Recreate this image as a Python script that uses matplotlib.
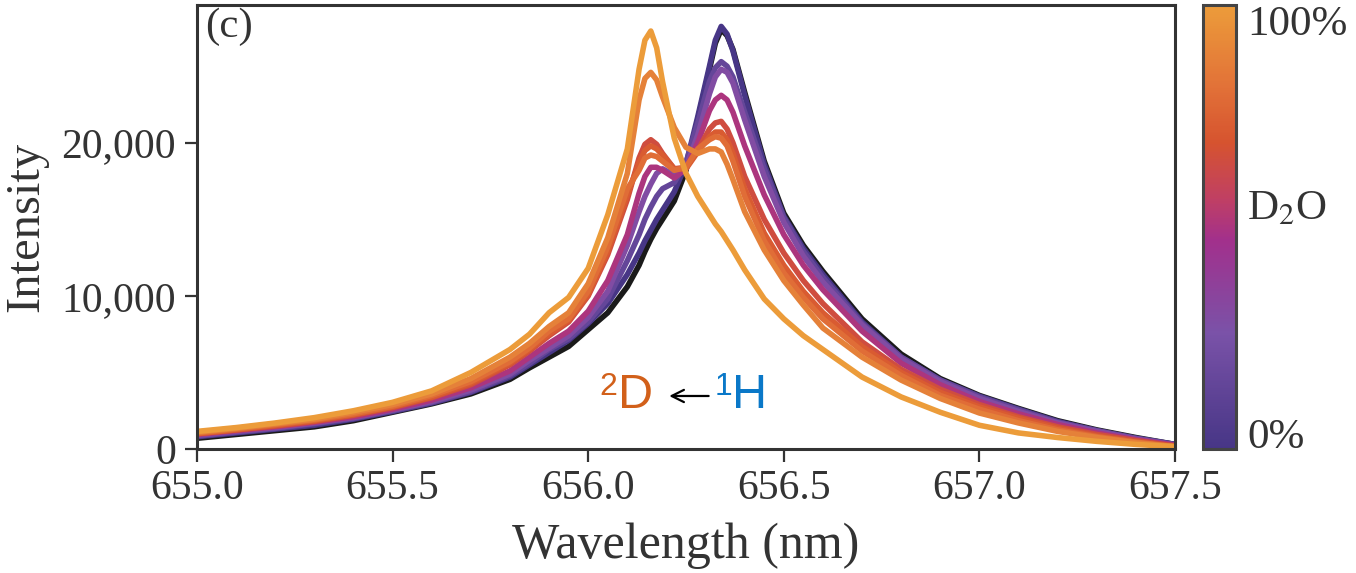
import numpy as np
import matplotlib
matplotlib.use("Agg")
import matplotlib.pyplot as plt
from matplotlib.colors import LinearSegmentedColormap, Normalize
from matplotlib.cm import ScalarMappable

plt.rcParams['font.family'] = ['Liberation Serif', 'DejaVu Serif']
plt.rcParams['mathtext.fontset'] = 'stix'

# wavelength grid (nm), denser around the two peaks
wavelength = [655.0, 655.1, 655.2, 655.3, 655.4, 655.5, 655.6, 655.7, 655.8,
              655.85, 655.9, 655.95, 656.0, 656.05, 656.1,
              656.13, 656.145, 656.16, 656.175, 656.19, 656.22, 656.25, 656.28,
              656.31, 656.325, 656.34, 656.355, 656.37, 656.4,
              656.45, 656.5, 656.55, 656.6, 656.7, 656.8, 656.9, 657.0, 657.1, 657.2, 657.3, 657.4, 657.5]

# intensities, one list per spectrum
black_ref = [700, 950, 1200, 1450, 1850, 2400, 2950, 3600, 4550,
             5300, 6000, 6700, 7800, 8900, 10600,
             12000, 12900, 13700, 14400, 15000, 16200, 18200, 21500,
             24800, 26500, 27400, 27000, 26100, 23300,
             18800, 15400, 13300, 11600, 8500, 6200, 4600, 3500, 2650, 1850, 1250, 750, 300]
d2o_0 = [800, 1050, 1300, 1550, 1950, 2450, 3000, 3700, 4700,
         5500, 6300, 7100, 8200, 9500, 11400,
         12800, 13600, 14300, 15000, 15600, 16800, 18600, 21700,
         25000, 26700, 27600, 27100, 26000, 23100,
         18600, 15200, 13100, 11400, 8300, 6000, 4500, 3450, 2600, 1800, 1200, 700, 300]
d2o_15 = [850, 1100, 1350, 1650, 2000, 2500, 3050, 3750, 4800,
          5600, 6500, 7200, 8300, 9800, 12300,
          14000, 15000, 15800, 16500, 17000, 17400, 18700, 21300,
          24000, 24900, 25300, 25000, 24300, 22000,
          18300, 15100, 12900, 11200, 8200, 6000, 4500, 3400, 2550, 1750, 1200, 700, 300]
d2o_30 = [900, 1150, 1400, 1700, 2050, 2550, 3100, 3850, 4900,
          5800, 6600, 7400, 8600, 10300, 13300,
          15500, 16500, 17300, 18000, 18300, 17900, 18400, 20500,
          23200, 24300, 24800, 24600, 23900, 21500,
          17800, 14800, 12600, 10900, 8100, 5900, 4400, 3300, 2450, 1700, 1150, 650, 250]
d2o_50 = [950, 1200, 1450, 1750, 2100, 2600, 3200, 4000, 5100,
          6000, 6900, 7700, 9000, 11000, 14000,
          16700, 17800, 18400, 18400, 18200, 17700, 18300, 20000,
          22100, 22800, 23100, 22800, 22000, 19800,
          16600, 14000, 12000, 10400, 7700, 5600, 4200, 3100, 2300, 1600, 1050, 600, 250]
d2o_65 = [1000, 1250, 1500, 1800, 2200, 2700, 3350, 4200, 5500,
          6400, 7400, 8300, 10000, 12700, 16300,
          19000, 19900, 20200, 19900, 19300, 18300, 18400, 19500,
          20900, 21300, 21400, 20900, 20000, 17800,
          15000, 12800, 11000, 9500, 7000, 5200, 3900, 2900, 2100, 1450, 950, 550, 200]
d2o_72 = [1000, 1250, 1550, 1850, 2250, 2750, 3400, 4300, 5600,
          6500, 7500, 8400, 10100, 12900, 16600,
          18700, 19500, 19800, 19600, 19200, 18300, 18300, 19400,
          20400, 20700, 20700, 20200, 19300, 17000,
          14100, 12000, 10300, 8900, 6700, 5000, 3700, 2750, 2000, 1350, 850, 450, 150]
d2o_80 = [1050, 1300, 1600, 1900, 2300, 2800, 3500, 4400, 5700,
          6600, 7700, 8500, 10300, 13200, 17000,
          18200, 19000, 19200, 19100, 18800, 18200, 18400, 19600,
          20200, 20400, 20300, 19800, 18800, 16500,
          13600, 11500, 9900, 8500, 6400, 4800, 3500, 2600, 1850, 1250, 800, 450, 150]
d2o_88 = [1100, 1350, 1650, 1950, 2400, 2900, 3600, 4600, 6000,
          6900, 8000, 8900, 10800, 13800, 18000,
          22800, 24200, 24600, 24100, 23000, 21000, 19700, 19300,
          19600, 19600, 19400, 18600, 17600, 15500,
          13000, 11000, 9400, 7900, 6000, 4500, 3300, 2350, 1700, 1150, 750, 400, 150]
d2o_100 = [1150, 1400, 1700, 2050, 2500, 3050, 3800, 5000, 6500,
           7500, 8900, 9900, 11800, 15300, 19600,
           24800, 26700, 27300, 26200, 24000, 20300, 18000, 16500,
           15300, 14700, 14200, 13600, 13000, 11700,
           9800, 8500, 7400, 6500, 4700, 3400, 2400, 1550, 1050, 750, 500, 300, 150]

spectra = [d2o_0, d2o_15, d2o_30, d2o_50, d2o_65, d2o_72, d2o_80, d2o_88, d2o_100]
fractions = [0, 15, 30, 50, 65, 72, 80, 88, 100]

cbar_ticks = [3.5, 55, 96.5]
cbar_labels = ['0%', 'D$_2$O', '100%']

cmap = LinearSegmentedColormap.from_list('d2o', [
    (0.0, '#473686'), (0.26, '#7a52a8'), (0.47, '#a2308c'), (0.56, '#bf3f65'),
    (0.69, '#d6532f'), (0.82, '#e27238'), (1.0, '#ec9c3a')])
norm = Normalize(0, 100)

fig = plt.figure(figsize=(13.56, 5.73), dpi=100)
ax = fig.add_axes([0.1453, 0.2164, 0.7212, 0.7749])

ax.plot(wavelength, black_ref, color='#1a1a1a', lw=4, solid_joinstyle='round')
for frac, spec in zip(fractions, spectra):
    ax.plot(wavelength, spec, color=cmap(norm(frac)), lw=4, solid_joinstyle='round')

ax.set_xlim(655.0, 657.5)
ax.set_ylim(0, 29000)
ax.set_xticks([655.0, 655.5, 656.0, 656.5, 657.0, 657.5])
ax.set_yticks([0, 10000, 20000])
ax.yaxis.set_major_formatter(matplotlib.ticker.FuncFormatter(lambda v, p: f"{int(v):,}"))
ax.tick_params(direction='out', length=9, width=1.6, labelsize=30, colors='#333333',
               labelcolor='#333333', pad=6)
for s in ax.spines.values():
    s.set_linewidth(2.2)
    s.set_color('#333333')

ax.set_xlabel('Wavelength (nm)', fontsize=36, color='#333333', labelpad=10)
ax.set_ylabel('Intensity', fontsize=35, color='#333333')
ax.yaxis.set_label_coords(-0.152, 0.5)

ax.text(0.008, 0.995, '(c)', transform=ax.transAxes, fontsize=31, va='top', ha='left', color='#333333')

# isotope annotation
sans = ['Liberation Sans', 'DejaVu Sans']
ax.text(0.411, 0.1216, '2', transform=ax.transAxes, fontsize=23, color='#d2601a', family=sans, va='baseline')
ax.text(0.4305, 0.0923, 'D', transform=ax.transAxes, fontsize=35, color='#d2601a', family=sans, va='baseline')
ax.text(0.5297, 0.1216, '1', transform=ax.transAxes, fontsize=23, color='#0a78c8', family=sans, va='baseline')
ax.text(0.547, 0.0923, 'H', transform=ax.transAxes, fontsize=35, color='#0a78c8', family=sans, va='baseline')
ax.annotate('', xy=(0.480, 0.1194), xytext=(0.526, 0.1194), xycoords='axes fraction',
            arrowprops=dict(arrowstyle='->', lw=1.6, color='black', mutation_scale=22))

cax = fig.add_axes([0.8872, 0.2164, 0.0243, 0.7749])
sm = ScalarMappable(norm=norm, cmap=cmap)
cbar = fig.colorbar(sm, cax=cax)
cbar.set_ticks(cbar_ticks)
cbar.set_ticklabels(cbar_labels)
cbar.ax.tick_params(length=0, labelsize=31, labelcolor='#333333', pad=8)
cbar.outline.set_linewidth(2.2)
cbar.outline.set_edgecolor('#444444')

fig.savefig('out.png', dpi=100)
